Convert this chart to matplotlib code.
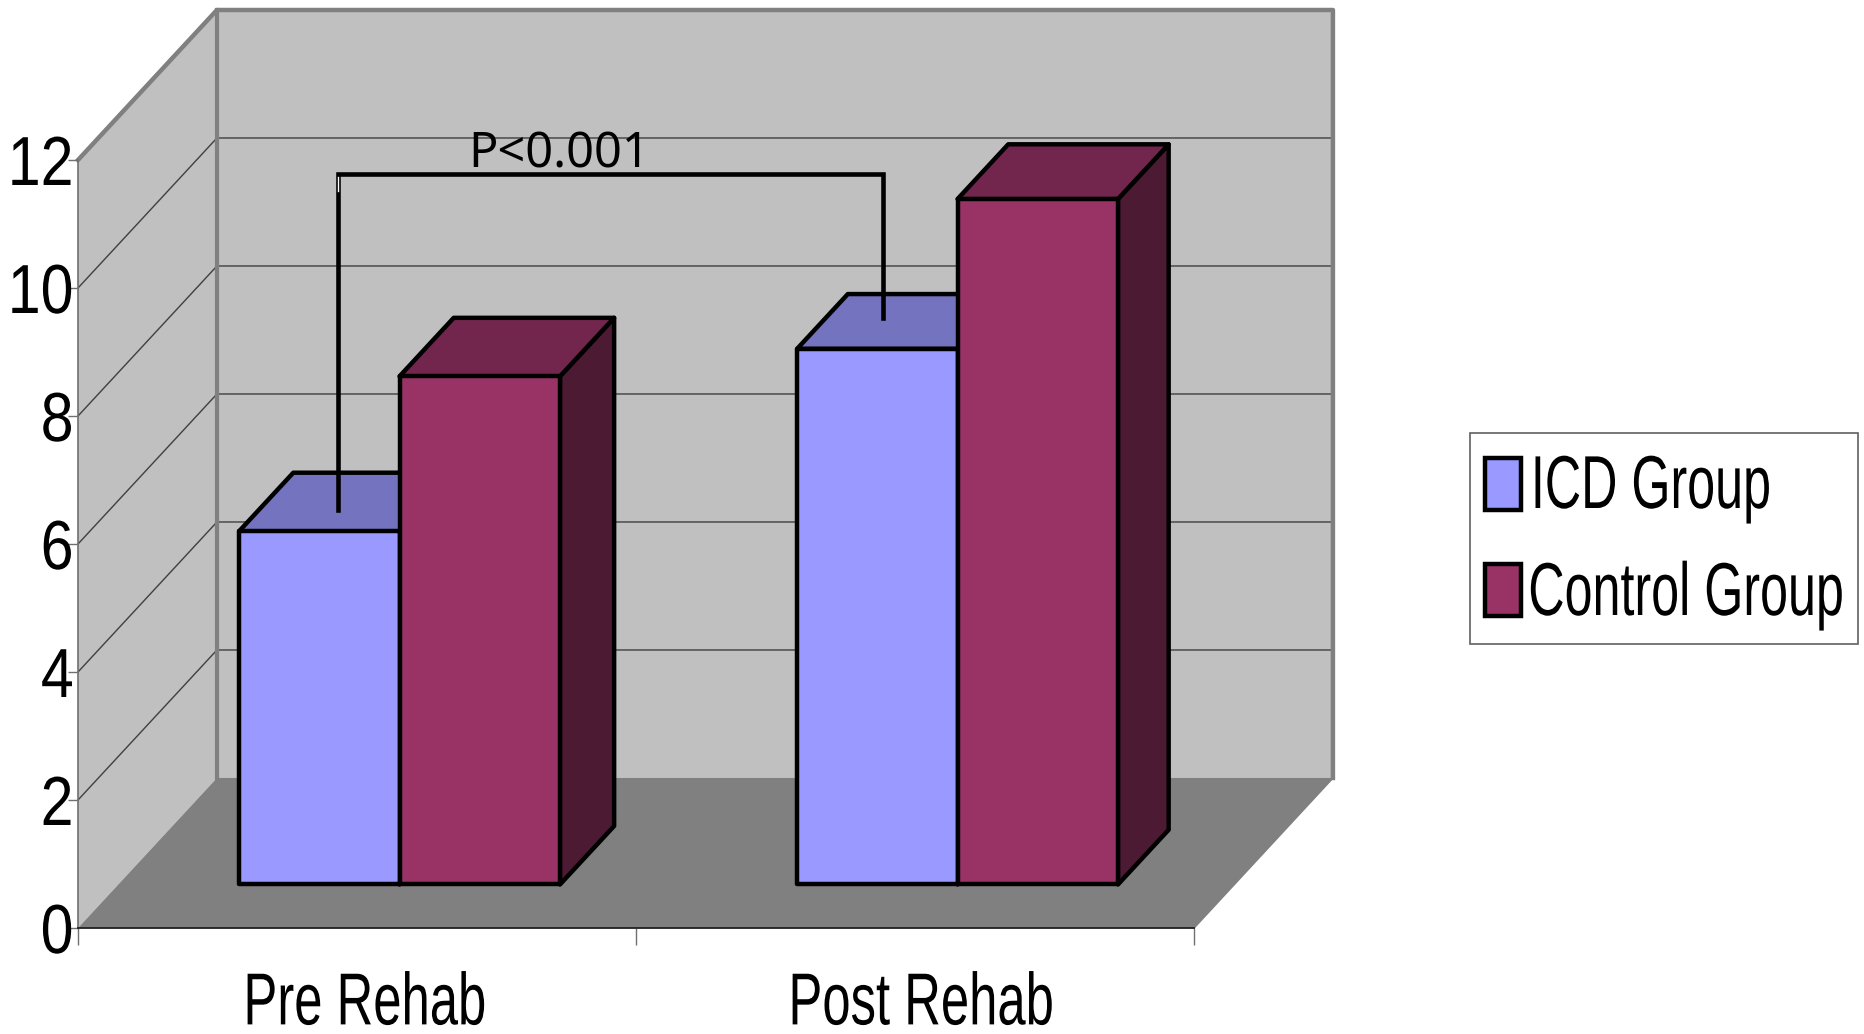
import matplotlib
matplotlib.use('Agg')
import matplotlib.pyplot as plt
from matplotlib.patches import Polygon, Rectangle
from matplotlib.patheffects import AbstractPathEffect
from matplotlib.transforms import Affine2D

# Values
CATEGORIES = ['Pre Rehab', 'Post Rehab']
SERIES = ['ICD Group', 'Control Group']
ICD_VALUES = [5.52, 8.37]
CONTROL_VALUES = [7.94, 10.71]
Y_TICKS = [0, 2, 4, 6, 8, 10, 12]

# Colours: front, top, side
ICD_COLORS = ['#9999FF', '#7373BF', '#4D4D80']
CONTROL_COLORS = ['#993366', '#73264D', '#4D1A33']
WALL = '#C0C0C0'
FLOOR = '#808080'

# Oblique depth, in data units at depth = 1
DEPTH_X = 0.249
DEPTH_Y = 2.344
BAR_WIDTH = 0.2875
BAR_FRONT = 0.29
BAR_BACK = [0.68, 0.655]
X_MAX = 2

W, H = 1865, 1034
FONT = 'Liberation Sans'


class Squeeze(AbstractPathEffect):
    # narrows a text horizontally, the reference type is very tightly set
    def __init__(self, sx, anchor=0.0, dx=0.0, dy=0.0):
        super().__init__()
        self.sx = sx
        self.anchor = anchor
        self.dx = dx
        self.dy = dy

    def draw_path(self, renderer, gc, tpath, affine, rgbFace=None):
        shift = self.anchor * (1 - self.sx) * tpath.get_extents().x1
        squeeze = Affine2D().scale(self.sx, 1).translate(shift, 0)
        nudge = Affine2D().translate(self.dx, self.dy)
        renderer.draw_path(gc, tpath, squeeze + affine + nudge, rgbFace)


def proj(x, y, d):
    return (x + d * DEPTH_X, y + d * DEPTH_Y)


def draw_bar(ax, x, value, back, colors, z):
    x2 = x + BAR_WIDTH
    kw = dict(edgecolor='black', linewidth=3.2, joinstyle='round', clip_on=False, zorder=z)
    side = [proj(x2, 0, BAR_FRONT), proj(x2, 0, back), proj(x2, value, back), proj(x2, value, BAR_FRONT)]
    top = [proj(x, value, BAR_FRONT), proj(x2, value, BAR_FRONT), proj(x2, value, back), proj(x, value, back)]
    front = [proj(x, 0, BAR_FRONT), proj(x2, 0, BAR_FRONT), proj(x2, value, BAR_FRONT), proj(x, value, BAR_FRONT)]
    ax.add_patch(Polygon(side, facecolor=colors[2], **kw))
    ax.add_patch(Polygon(top, facecolor=colors[1], **kw))
    ax.add_patch(Polygon(front, facecolor=colors[0], **kw))


fig = plt.figure(figsize=(18.65, 10.34), dpi=100)
ax = fig.add_axes([78 / W, 1 - 928 / H, 1116 / W, 768 / H])
ax.set_xlim(0, X_MAX)
ax.set_ylim(0, 12)
ax.patch.set_visible(False)

# walls and floor
left_wall = [proj(0, 0, 0), proj(0, 12, 0), proj(0, 12, 1), proj(0, 0, 1)]
back_wall = [proj(0, 0, 1), proj(0, 12, 1), proj(X_MAX, 12, 1), proj(X_MAX, 0, 1)]
floor = [proj(0, 0, 0), proj(X_MAX, 0, 0), proj(X_MAX, 0, 1), proj(0, 0, 1)]
ax.add_patch(Polygon(left_wall, facecolor=WALL, edgecolor='none', clip_on=False, zorder=1))
ax.add_patch(Polygon(back_wall, facecolor=WALL, edgecolor='none', clip_on=False, zorder=1))
ax.add_patch(Polygon(floor, facecolor=FLOOR, edgecolor='none', clip_on=False, zorder=1.1))

for v in Y_TICKS[1:-1]:
    a, b, c = proj(0, v, 0), proj(0, v, 1), proj(X_MAX, v, 1)
    ax.plot([a[0], b[0], c[0]], [a[1], b[1], c[1]], color='#404040', lw=1.0,
            clip_on=False, zorder=1.2)

# heavy wall frame
frame = [proj(0, 12, 0), proj(0, 12, 1), proj(X_MAX, 12, 1), proj(X_MAX, 0, 1), proj(X_MAX, 0, 0)]
ax.plot([p[0] for p in frame[:4]], [p[1] for p in frame[:4]], color=FLOOR, lw=3.2,
        clip_on=False, zorder=1.3)
ax.plot([frame[3][0], frame[4][0]], [frame[3][1], frame[4][1]], color=FLOOR, lw=1.2,
        clip_on=False, zorder=1.3)
back_edge = [proj(0, 0, 1), proj(0, 12, 1)]
ax.plot([p[0] for p in back_edge], [p[1] for p in back_edge], color=FLOOR, lw=3.0,
        clip_on=False, zorder=1.3)

# bars
centers = [0.504, 1.504]
for i, c in enumerate(centers):
    draw_bar(ax, c - BAR_WIDTH, ICD_VALUES[i], BAR_BACK[i], ICD_COLORS, 3 + i)
    draw_bar(ax, c, CONTROL_VALUES[i], BAR_BACK[i], CONTROL_COLORS, 3.5 + i)

# significance bracket
BRACKET_X = [0.466, 0.466, 1.442, 1.442]
BRACKET_Y = [6.53, 11.78, 11.78, 9.53]
ax.plot(BRACKET_X, BRACKET_Y, color='black', lw=3.3, solid_joinstyle='miter',
        clip_on=False, zorder=8)
ax.plot([0.4655, 0.4655], [11.52, 11.74], color='white', lw=1.0, clip_on=False, zorder=9)
ax.text(0.7, 11.89, 'P<0.001', fontsize=35, family='Noto Sans', color='black',
        ha='left', va='baseline', zorder=9)

# axes
for name in ('top', 'right'):
    ax.spines[name].set_visible(False)
ax.spines['left'].set_color('#707070')
ax.spines['left'].set_linewidth(1.2)
ax.spines['bottom'].set_color('#202020')
ax.spines['bottom'].set_linewidth(1.3)
ax.spines['left'].set_zorder(2)
ax.spines['bottom'].set_zorder(2)

ax.set_yticks(Y_TICKS)
ax.set_yticklabels([str(v) for v in Y_TICKS], fontsize=50, family=FONT)
ax.tick_params(axis='y', length=7.5, width=1, color='#707070', pad=-7.5)
for t in ax.get_yticklabels():
    t.set_path_effects([Squeeze(0.85, anchor=1.0, dx=-4)])

ax.set_xticks([0, 1, 2])
ax.set_xticklabels([])
ax.tick_params(axis='x', length=12, width=1, color='#707070')
ax.set_xticks([0.515, 1.512], minor=True)
ax.set_xticklabels(CATEGORIES, minor=True, fontsize=53, family=FONT)
# label box sits higher, the glyphs are nudged back down so the empty descent stays on the page
ax.tick_params(axis='x', which='minor', length=0, pad=19)
for t in ax.get_xticklabels(minor=True):
    t.set_path_effects([Squeeze(0.69, anchor=0.5, dy=-16)])

# legend, built by hand because the squeezed labels would upset the automatic frame
fig.add_artist(Rectangle((1470 / W, 1 - 644 / H), 388 / W, 211 / H, transform=fig.transFigure,
                         facecolor='white', edgecolor='#606060', linewidth=1.2))
LEGEND_TOPS = [458, 564]
LEGEND_BASELINES = [508, 615]
LEGEND_RIGHTS = [1772, 1845]
legend_colors = [ICD_COLORS[0], CONTROL_COLORS[0]]
for i, label in enumerate(SERIES):
    fig.add_artist(Rectangle((1485 / W, 1 - (LEGEND_TOPS[i] + 52) / H), 36 / W, 52 / H,
                             transform=fig.transFigure, facecolor=legend_colors[i],
                             edgecolor='black', linewidth=3.2))
    fig.text(LEGEND_RIGHTS[i] / W, 1 - LEGEND_BASELINES[i] / H, label, fontsize=54, family=FONT,
             ha='right', va='baseline', path_effects=[Squeeze(0.67, anchor=1.0)])

fig.savefig('out.png', dpi=100)
